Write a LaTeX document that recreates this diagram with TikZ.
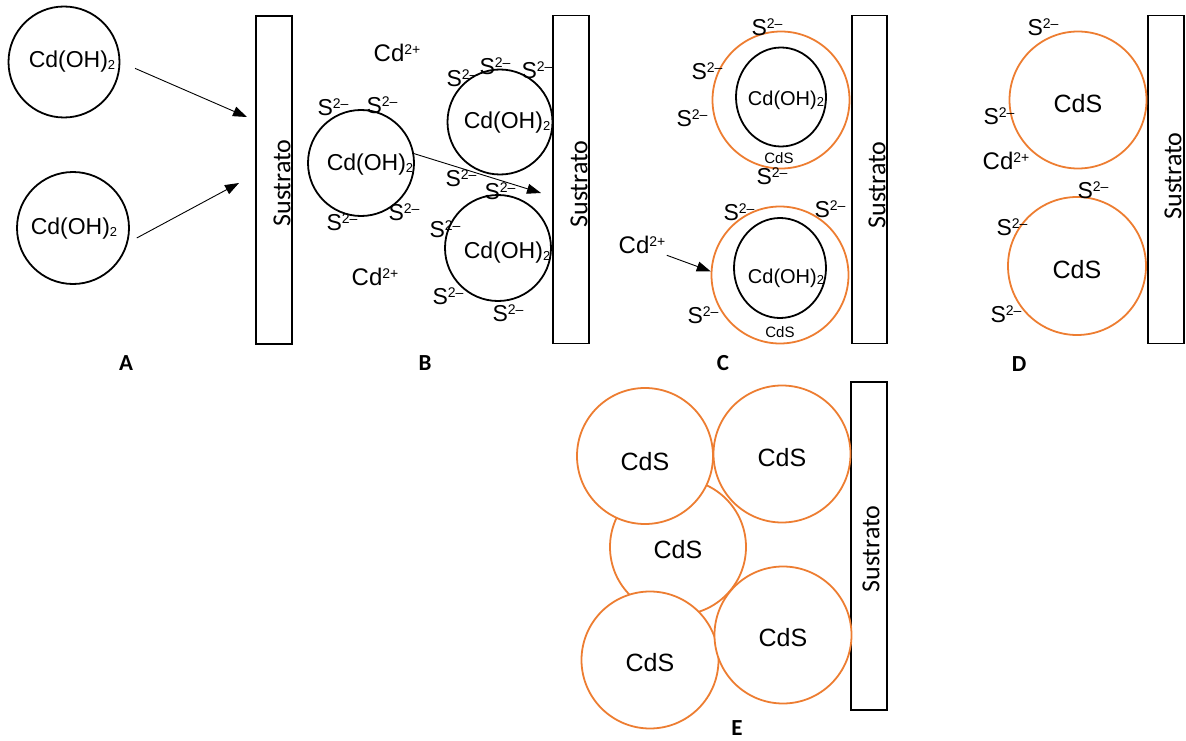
\documentclass[tikz,border=0pt]{standalone}
\usepackage{fontspec}
\setmainfont{Liberation Sans}
\newfontfamily\calibfont{Carlito}
\usepackage{tikz}
\usetikzlibrary{arrows.meta,shapes.geometric,positioning}
\definecolor{cdsorange}{RGB}{237,125,49}
\newcommand{\ionsup}[1]{\raisebox{0.3em}{\fontsize{14}{14}\selectfont #1}}
\newcommand{\Sion}{S\ionsup{2–}}
\newcommand{\Cdion}{Cd\ionsup{2+}}
\newcommand{\CdOH}{Cd(OH)\raisebox{-0.08em}{\fontsize{13}{13}\selectfont 2}}

\begin{document}
\begin{tikzpicture}[x=1pt,y=-1pt,>={Triangle[length=14pt,width=10pt]},line width=0.9pt]
  \tikzstyle{grain}=[circle,draw,line width=1.8pt,inner sep=0pt]
  \tikzstyle{core}=[ellipse,draw,line width=1.8pt,inner sep=0pt,minimum width=90pt,minimum height=99pt]
  \tikzstyle{shell}=[circle,draw=cdsorange,line width=1.8pt,inner sep=0pt,minimum size=137pt,font=\fontsize{25}{27}\selectfont]
  \tikzstyle{cds}=[shell,fill=white]
  \tikzstyle{oh}=[inner sep=0pt,font=\fontsize{23}{25}\selectfont]
  \tikzstyle{ohsmall}=[inner sep=0pt,font=\fontsize{20}{22}\selectfont]
  \tikzstyle{cdssmall}=[inner sep=0pt,font=\fontsize{15}{17}\selectfont]
  \tikzstyle{ion}=[inner sep=1pt,font=\fontsize{23}{25}\selectfont]
  \tikzstyle{cation}=[inner sep=1pt,font=\fontsize{24}{26}\selectfont]
  \tikzstyle{substrate}=[draw,line width=1.8pt,inner sep=0pt,minimum width=36pt,minimum height=328pt]
  \tikzstyle{sustext}=[rotate=90,inner sep=0pt,font=\calibfont\fontsize{26}{28}\selectfont]
  \tikzstyle{panel}=[font=\calibfont\bfseries\fontsize{23}{25}\selectfont]

  \useasboundingbox (0,0) rectangle (1186,741);

  % A
  \node[substrate] (subA) at (274,180) {};
  \node[sustext] (susA) at (282,183) {Sustrato};
  \node[grain,minimum size=111pt] (ca1) at (64,62) {};
  \node[oh] (ta1) at (72,62) {\CdOH};
  \node[grain,minimum size=112pt] (ca2) at (73,228) {};
  \node[oh] (ta2) at (74,229) {\CdOH};
  \coordinate (tipA1) at (247,117);
  \coordinate (tipA2) at (239,183);
  \node[panel] (lA) at (126,363) {A};

  % B
  \node[substrate] (subB) at (571,179.5) {};
  \node[sustext] (susB) at (579,184) {Sustrato};
  \node[grain,minimum size=106pt] (cb1) at (361,163) {};
  \node[oh] (tb1) at (370,165) {\CdOH};
  \node[grain,minimum size=105pt] (cb2) at (500,122) {};
  \node[oh] (tb2) at (507,123) {\CdOH};
  \node[grain,minimum size=106pt] (cb3) at (498,248) {};
  \node[oh] (tb3) at (507,253) {\CdOH};
  \coordinate (tipB) at (541,193);
  \node[cation] (cdB1) at (397,53) {\Cdion};
  \node[cation] (cdB2) at (375,277) {\Cdion};
  \node[ion] (sB1) at (333,107) {\Sion};
  \node[ion] (sB2) at (382,105) {\Sion};
  \node[ion] (sB3) at (462,78) {\Sion};
  \node[ion] (sB4) at (495,66) {\Sion};
  \node[ion] (sB5) at (537,70) {\Sion};
  \node[ion] (sB6) at (342,222) {\Sion};
  \node[ion] (sB7) at (404,212) {\Sion};
  \node[ion] (sB8) at (461,178) {\Sion};
  \node[ion] (sB9) at (500,191) {\Sion};
  \node[ion] (sB10) at (445,229) {\Sion};
  \node[ion] (sB11) at (448,296) {\Sion};
  \node[ion] (sB12) at (508,313) {\Sion};
  \node[panel] (lB) at (425,363) {B};

  % C
  \node[substrate,minimum width=35pt] (subC) at (869.5,179.5) {};
  \node[sustext] (susC) at (877,185) {Sustrato};
  \node[shell] (cc1) at (781,100) {};
  \node[core] (kc1) at (781,97) {};
  \node[ohsmall] (tc1) at (786,100) {\CdOH};
  \node[cdssmall] (dc1) at (779,158) {CdS};
  \node[shell] (cc2) at (780,275) {};
  \node[core,minimum width=92pt,minimum height=100pt] (kc2) at (780,268) {};
  \node[ohsmall] (tc2) at (786,278) {\CdOH};
  \node[cdssmall] (dc2) at (780,332) {CdS};
  \node[ion] (sC1) at (767,27) {\Sion};
  \node[ion] (sC2) at (707,71) {\Sion};
  \node[ion] (sC3) at (692,118) {\Sion};
  \node[ion] (sC4) at (772,176) {\Sion};
  \node[ion] (sC5) at (739,212) {\Sion};
  \node[ion] (sC6) at (830,209) {\Sion};
  \node[ion] (sC7) at (703,315) {\Sion};
  \node[cation] (cdC) at (642,245) {\Cdion};
  \node[panel] (lC) at (723,363) {C};

  % D
  \node[substrate] (subD) at (1166,179.5) {};
  \node[sustext] (susD) at (1173,176) {Sustrato};
  \node[shell] (cd1) at (1078,100) {};
  \node[shell,minimum size=138pt] (cd2) at (1077,266) {};
  \node[shell,draw=none,minimum size=0pt] (td1) at (1078,104) {CdS};
  \node[shell,draw=none,minimum size=0pt] (td2) at (1077,270) {CdS};
  \node[ion] (sD1) at (1043,27) {\Sion};
  \node[ion] (sD2) at (999,116) {\Sion};
  \node[ion] (sD3) at (1093,190) {\Sion};
  \node[ion] (sD4) at (1012,227) {\Sion};
  \node[ion] (sD5) at (1006,314) {\Sion};
  \node[cation] (cdD) at (1006,161) {\Cdion};
  \node[panel] (lD) at (1019,364) {D};

  % E
  \node[substrate] (subE) at (869,546) {};
  \node[sustext] (susE) at (871,549) {Sustrato};
  \node[cds,minimum size=136pt] (ce3) at (678,547) {};
  \node[cds,minimum size=136pt] (ce1) at (645,456) {};
  \node[cds] (ce2) at (782,454) {};
  \node[cds] (ce4) at (650,660) {};
  \node[cds] (ce5) at (783,635) {};
  \node[shell,draw=none,minimum size=0pt] (te1) at (645,462) {CdS};
  \node[shell,draw=none,minimum size=0pt] (te2) at (782,458) {CdS};
  \node[shell,draw=none,minimum size=0pt] (te3) at (678,550) {CdS};
  \node[shell,draw=none,minimum size=0pt] (te4) at (650,663) {CdS};
  \node[shell,draw=none,minimum size=0pt] (te5) at (783,638) {CdS};
  \node[panel] (lE) at (737,728) {E};

  \path[->]
  (ca1.east) edge[shorten <=16pt] (tipA1)
  (ca2.-15) edge[shorten <=10pt] (tipA2)
  (cb1.10) edge (tipB)
  (cdC.south east) edge (cc2.177);
\end{tikzpicture}
\end{document}
